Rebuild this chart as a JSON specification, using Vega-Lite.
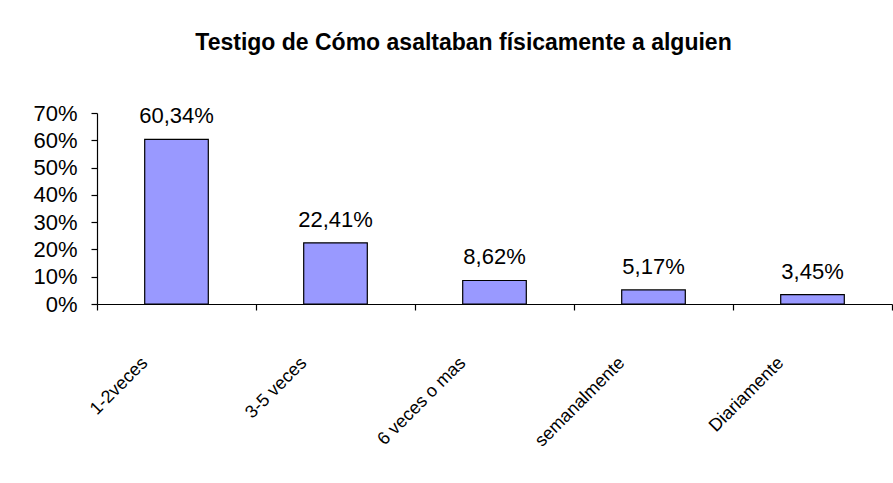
{
  "$schema": "https://vega.github.io/schema/vega-lite/v6.json",
  "width": 795,
  "height": 191,
  "autosize": {"type": "none"},
  "padding": {"left": 97, "top": 113, "right": 1, "bottom": 179},
  "background": "white",
  "title": {
    "text": "Testigo de Cómo asaltaban físicamente a alguien",
    "font": "Liberation Sans",
    "fontSize": 23,
    "fontWeight": "bold",
    "color": "black",
    "anchor": "middle",
    "frame": "group",
    "baseline": "alphabetic",
    "dx": -31,
    "offset": 29
  },
  "data": {
    "values": [
      {"categoria": "1-2veces", "pct": 0.6034},
      {"categoria": "3-5 veces", "pct": 0.2241},
      {"categoria": "6 veces o mas", "pct": 0.0862},
      {"categoria": "semanalmente", "pct": 0.0517},
      {"categoria": "Diariamente", "pct": 0.0345}
    ]
  },
  "encoding": {
    "x": {
      "field": "categoria",
      "type": "nominal",
      "sort": null,
      "scale": {"paddingInner": 0, "paddingOuter": 0},
      "axis": {
        "title": null,
        "tickBand": "extent",
        "tickSize": 6,
        "labelAngle": -45,
        "labelAlign": "right",
        "labelBaseline": "middle",
        "labelPadding": 50,
        "labelOffset": -32,
        "labelFontSize": 18,
        "labelLimit": 300
      }
    },
    "y": {
      "field": "pct",
      "type": "quantitative",
      "scale": {"domain": [0, 0.7], "nice": false},
      "axis": {
        "title": null,
        "values": [0, 0.1, 0.2, 0.3, 0.4, 0.5, 0.6, 0.7],
        "format": ".0%",
        "tickSize": 6,
        "labelPadding": 14,
        "labelFontSize": 22,
        "grid": false
      }
    }
  },
  "layer": [
    {"mark": {"type": "bar", "width": {"band": 0.4}, "fill": "#9999FF", "stroke": "black", "strokeWidth": 1.2}},
    {
      "mark": {"type": "text", "dy": -16, "baseline": "alphabetic", "align": "center", "fontSize": 22, "font": "Liberation Sans", "color": "black"},
      "encoding": {"text": {"field": "pct", "type": "quantitative", "format": ".2%"}}
    }
  ],
  "config": {
    "view": {"stroke": null},
    "locale": {"number": {"decimal": ",", "thousands": ".", "grouping": [3], "currency": ["", " €"]}},
    "axis": {
      "labelFont": "Liberation Sans",
      "labelColor": "black",
      "domainColor": "black",
      "tickColor": "black",
      "domainWidth": 1.2,
      "tickWidth": 1.2
    }
  }
}
